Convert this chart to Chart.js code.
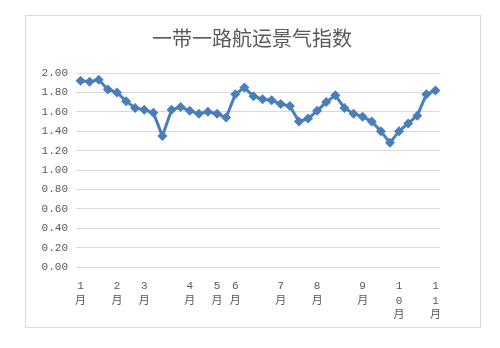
<!DOCTYPE html>
<html>
<head>
<meta charset="utf-8">
<script src="https://cdn.jsdelivr.net/npm/chart.js@4"></script>
<style>
  body { margin: 0; background: #fff; }
  #wrap { position: relative; width: 500px; height: 348px; }
  #frame { position: absolute; left: 25px; top: 15px; width: 454px; height: 311px; border: 1px solid #d9d9d9; }
  #mycanvas { position: absolute; left: 0; top: 0; }
</style>
</head>
<body>
<div id="wrap">
  <div id="frame"></div>
  <canvas id="mycanvas" width="500" height="348"></canvas>
</div>
<script>
// month labels sit on certain weeks, other weeks stay blank
var monthAt = { 0: ['1', '月'], 4: ['2', '月'], 7: ['3', '月'], 12: ['4', '月'], 15: ['5', '月'],
                17: ['6', '月'], 22: ['7', '月'], 26: ['8', '月'], 31: ['9', '月'],
                35: ['1', '0', '月'], 39: ['1', '1', '月'] };

var Index = [1.92, 1.91, 1.93, 1.83, 1.80, 1.71, 1.64, 1.62, 1.59, 1.35,
             1.62, 1.65, 1.61, 1.58, 1.60, 1.58, 1.54, 1.78, 1.85, 1.76,
             1.73, 1.72, 1.68, 1.66, 1.50, 1.53, 1.61, 1.70, 1.77, 1.64,
             1.58, 1.55, 1.50, 1.40, 1.28, 1.40, 1.48, 1.56, 1.78, 1.82];

var yTicks = [0, 0.2, 0.4, 0.6, 0.8, 1.0, 1.2, 1.4, 1.6, 1.8, 2.0];

var Weeks = [];
for (var i = 0; i < Index.length; i++) {
    Weeks.push(monthAt[i] || '');
}

var chartTitle = '一带一路航运景气指数';
var fontFam = '"Liberation Mono", "Noto Sans CJK SC", monospace';
var gray = '#595959';

// title is centred on the frame, not on the plot area
var frameTitle = {
    id: 'frameTitle',
    afterDraw: function(chart) {
        var c = chart.ctx;
        c.save();
        c.font = '20px "Noto Sans CJK SC", sans-serif';
        c.fillStyle = gray;
        c.textAlign = 'center';
        c.textBaseline = 'middle';
        c.fillText(chartTitle, 252, 38);
        c.restore();
    }
};

var ctx = document.getElementById('mycanvas');
var lineGraph = new Chart(ctx, {
    type: 'line',
    data: {
        labels: Weeks,
        datasets: [{
            label: chartTitle,
            data: Index,
            borderColor: '#4a7ebb',
            backgroundColor: '#4a7ebb',
            borderWidth: 3,
            pointStyle: 'rectRot',
            pointRadius: 5,
            pointBorderWidth: 0,
            tension: 0
        }]
    },
    plugins: [frameTitle],
    options: {
        responsive: false,
        animation: false,
        layout: { padding: { left: 25, right: 60, top: 73, bottom: 0 } },
        plugins: {
            legend: { display: false },
            tooltip: { enabled: false },
            title: { display: false }
        },
        scales: {
            x: {
                offset: true,
                grid: { display: false },
                border: { display: false },
                ticks: {
                    autoSkip: false,
                    maxRotation: 0,
                    minRotation: 0,
                    padding: 4,
                    color: gray,
                    font: { family: fontFam, size: 11, lineHeight: 1.32 }
                },
                afterFit: function(scale) { scale.height = 81; }
            },
            y: {
                min: 0,
                max: 2,
                afterBuildTicks: function(axis) {
                    axis.ticks = yTicks.map(function(v) { return { value: v }; });
                },
                grid: { color: '#d9d9d9', drawTicks: false },
                border: { display: false },
                ticks: {
                    padding: 8,
                    color: gray,
                    font: { family: fontFam, size: 11 },
                    callback: function(v) { return Number(v).toFixed(2); }
                },
                afterFit: function(scale) { scale.width = 51; }
            }
        }
    }
});
</script>
</body>
</html>
